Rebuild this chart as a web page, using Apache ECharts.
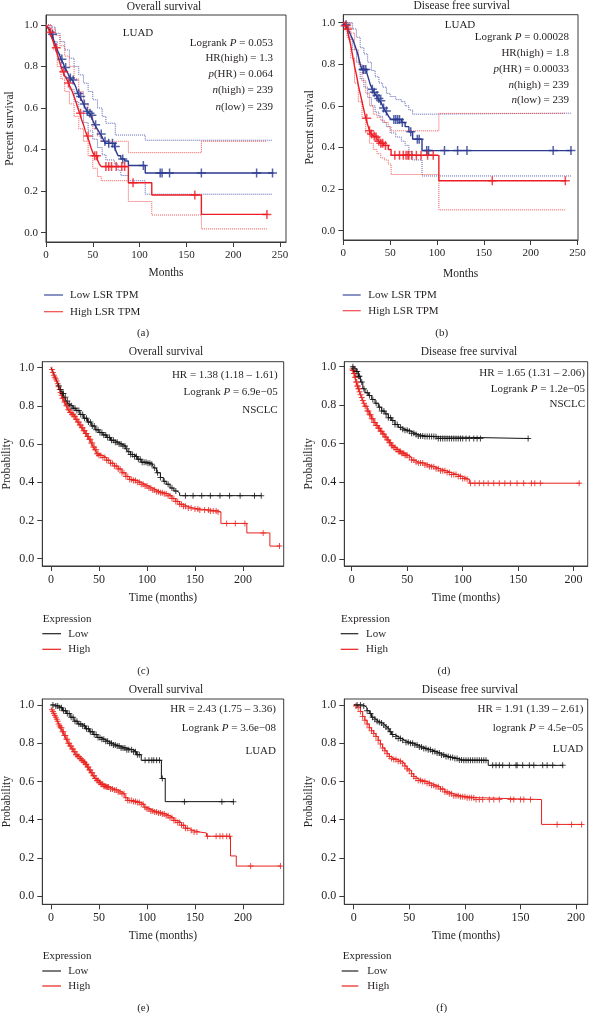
<!DOCTYPE html>
<html><head><meta charset="utf-8">
<script src="https://cdn.jsdelivr.net/npm/echarts@6/dist/echarts.min.js"></script>
<style>html,body{margin:0;padding:0;background:#fff}#c{width:590px;height:1013px}</style>
</head><body><div id="c"></div><script>
// ---------------- DATA ----------------
const xTicks250 = [0,50,100,150,200,250];
const xTicks200 = [0,50,100,150,200];
const yTicks = [0,0.2,0.4,0.6,0.8,1.0];

// (a) GEPIA overall survival LUAD
const aLow = [[0,1],[2,0.99],[4,0.975],[6,0.955],[8,0.93],[10,0.905],[12,0.88],[14,0.86],[16,0.835],[18,0.82],[20,0.795],[22,0.78],[24,0.76],[26,0.745],[28,0.735],[30,0.72],[32,0.7],[34,0.67],[36,0.655],[38,0.64],[40,0.62],[42,0.6],[44,0.585],[46,0.575],[48,0.565],[50,0.54],[52,0.52],[54,0.505],[56,0.49],[58,0.475],[60,0.46],[62,0.44],[64,0.43],[73,0.415],[75,0.39],[77,0.37],[80,0.355],[84,0.345],[88,0.323],[106,0.287],[243,0.287]];
const aLowCens = [7,17,21,26,29,35,37,41,44,47,49,53,59,63,67,71,74,82,104,122,124,132,166,225,242];
const aHigh = [[0,1],[2,0.985],[4,0.965],[6,0.94],[8,0.915],[10,0.89],[12,0.86],[14,0.83],[16,0.8],[18,0.775],[20,0.755],[22,0.74],[24,0.72],[26,0.7],[28,0.68],[30,0.655],[32,0.63],[34,0.6],[36,0.575],[38,0.545],[40,0.52],[42,0.49],[44,0.465],[46,0.44],[48,0.41],[50,0.385],[52,0.37],[55,0.35],[57,0.33],[59,0.318],[88,0.24],[113,0.181],[166,0.088],[237,0.088]];
const aHighCens = [5,11,19,24,37,45,52,54,64,67,70,75,81,84,93,159,236];
const aLowUp = [[0,1],[6,0.99],[10,0.96],[15,0.92],[20,0.88],[25,0.84],[30,0.8],[35,0.76],[40,0.72],[45,0.68],[50,0.64],[55,0.6],[60,0.56],[64,0.527],[74,0.47],[106,0.445],[242,0.445]];
const aLowDn = [[0,1],[4,0.97],[8,0.92],[12,0.86],[16,0.8],[20,0.75],[25,0.69],[30,0.63],[35,0.58],[40,0.53],[45,0.49],[50,0.45],[55,0.41],[60,0.375],[64,0.35],[73,0.33],[77,0.3],[80,0.275],[88,0.25],[106,0.185],[242,0.185]];
const aHighUp = [[0,1],[6,0.98],[10,0.95],[15,0.9],[20,0.85],[25,0.8],[30,0.74],[35,0.68],[40,0.62],[45,0.56],[50,0.5],[55,0.465],[59,0.44],[88,0.385],[166,0.44],[236,0.44]];
const aHighDn = [[0,1],[4,0.95],[8,0.88],[12,0.8],[16,0.74],[20,0.68],[25,0.62],[30,0.56],[35,0.5],[40,0.44],[45,0.37],[50,0.31],[55,0.27],[59,0.25],[88,0.15],[113,0.085],[166,0.018],[236,0.018]];

// (b) GEPIA disease free survival LUAD
const bLow = [[0,1],[2,0.99],[4,0.98],[6,0.96],[8,0.94],[10,0.92],[12,0.895],[14,0.87],[16,0.84],[18,0.8],[20,0.775],[25,0.76],[27,0.73],[29,0.7],[31,0.68],[33,0.665],[35,0.65],[37,0.635],[39,0.625],[41,0.61],[43,0.59],[45,0.575],[47,0.56],[49,0.545],[51,0.535],[62,0.52],[66,0.5],[70,0.475],[74,0.44],[84,0.385],[244,0.385]];
const bLowCens = [3,21,22,24,31,33,36,38,40,43,46,54,56,58,60,63,72,79,81,89,91,108,122,132,224,243];
const bHigh = [[0,1],[2,0.985],[4,0.97],[6,0.93],[8,0.89],[10,0.84],[12,0.79],[14,0.75],[16,0.7],[18,0.66],[20,0.62],[22,0.58],[24,0.54],[26,0.51],[28,0.48],[30,0.465],[32,0.455],[34,0.45],[36,0.44],[38,0.43],[40,0.42],[43,0.41],[48,0.39],[51,0.362],[102,0.24],[238,0.24]];
const bHighCens = [2,5,25,28,30,33,35,38,40,42,45,55,60,64,67,69,70,73,78,83,90,96,159,237];
const bLowUp = [[0,1],[6,1],[10,0.97],[14,0.93],[18,0.88],[22,0.85],[26,0.81],[30,0.77],[34,0.74],[38,0.71],[42,0.69],[46,0.66],[50,0.645],[56,0.63],[62,0.62],[66,0.6],[70,0.58],[74,0.56],[84,0.565],[243,0.565]];
const bLowDn = [[0,1],[6,0.92],[10,0.87],[14,0.81],[18,0.73],[22,0.69],[26,0.64],[30,0.6],[34,0.57],[38,0.55],[42,0.52],[46,0.5],[50,0.47],[56,0.45],[62,0.43],[66,0.41],[70,0.38],[74,0.34],[84,0.263],[243,0.263]];
const bHighUp = [[0,1],[4,1],[8,0.95],[12,0.87],[16,0.8],[20,0.72],[24,0.66],[28,0.6],[32,0.56],[36,0.545],[40,0.53],[44,0.52],[48,0.5],[51,0.48],[102,0.564],[237,0.564]];
const bHighDn = [[0,1],[4,0.93],[8,0.83],[12,0.71],[16,0.62],[20,0.54],[24,0.47],[28,0.42],[32,0.39],[36,0.37],[40,0.35],[44,0.34],[48,0.32],[51,0.27],[102,0.1],[237,0.1]];

// (c) KM plotter overall survival NSCLC
const cLow = [[0,1],[2,0.98],[4,0.955],[6,0.93],[8,0.905],[10,0.885],[12,0.865],[14,0.845],[16,0.825],[18,0.81],[20,0.8],[23,0.787],[26,0.775],[30,0.755],[34,0.735],[38,0.715],[42,0.695],[46,0.675],[50,0.66],[54,0.648],[58,0.635],[62,0.62],[66,0.61],[70,0.6],[74,0.59],[78,0.575],[80,0.56],[83,0.545],[86,0.535],[90,0.52],[94,0.505],[100,0.5],[105,0.495],[107,0.475],[110,0.45],[114,0.425],[117,0.405],[120,0.39],[124,0.37],[128,0.355],[131,0.345],[134,0.33],[219.5,0.33]];
const cLowCens = [8,10,12,13,15,17,19,21,23,25,27,29,31,33,35,37,39,41,43,45,47,49,51,53,55,57,59,61,63,65,67,69,71,73,75,77,79,81,83,85,87,89,91,93,95,97,99,101,103,105,108,111,114,118,122,126,130,140,148,157,166,176,186,197,212,219];
const cHigh = [[0,1],[1,0.99],[2,0.975],[3,0.96],[4,0.95],[5,0.94],[6,0.93],[7,0.915],[8,0.9],[9,0.885],[10,0.87],[11,0.855],[12,0.84],[14,0.82],[16,0.8],[18,0.78],[20,0.765],[22,0.755],[24,0.745],[26,0.73],[28,0.715],[30,0.7],[32,0.685],[34,0.67],[36,0.655],[38,0.64],[40,0.625],[42,0.605],[44,0.585],[46,0.57],[48,0.55],[50,0.54],[54,0.53],[58,0.515],[62,0.5],[66,0.485],[70,0.47],[74,0.45],[78,0.43],[82,0.415],[86,0.41],[90,0.4],[94,0.39],[98,0.38],[102,0.37],[106,0.36],[110,0.35],[114,0.345],[118,0.34],[122,0.33],[126,0.315],[130,0.3],[134,0.285],[138,0.275],[142,0.265],[148,0.26],[155,0.255],[165,0.25],[174,0.245],[177,0.185],[204,0.135],[228,0.066],[239,0.066]];
const cHighCens = [1,2,3,4,5,6,7,8,9,10,11,12,13,14,15,16,17,18,19,20,21,22,23,24,25,26,27,28,29,30,31,32,33,34,35,36,37,38,39,40,41,42,43,44,45,46,47,48,49,50,52,54,56,58,60,62,64,66,68,70,72,74,76,78,80,82,84,86,88,90,92,94,96,98,100,102,104,106,108,110,112,114,116,118,120,122,124,126,128,130,132,134,136,138,140,143,146,150,153,155,160,164,166,169,172,174,183,192,202,221,238];

// (d) KM plotter disease free survival NSCLC
const dLow = [[0,1],[2,0.99],[4,0.975],[6,0.95],[8,0.92],[10,0.885],[12,0.865],[15,0.85],[18,0.83],[21,0.81],[24,0.79],[27,0.77],[30,0.755],[33,0.735],[36,0.72],[39,0.7],[42,0.685],[45,0.675],[48,0.67],[51,0.665],[54,0.655],[57,0.648],[60,0.64],[66,0.638],[75,0.636],[77,0.627],[160,0.627]];
const dLowCens = [1,2,4,5,6,7,9,11,14,16,19,22,25,27,29,31,33,35,37,39,41,44,46,48,50,52,54,56,58,60,62,64,66,68,70,72,74,76,78,80,82,84,86,88,90,92,94,96,98,100,103,106,110,113,116,159];
const dHigh = [[0,0.988],[1,0.98],[2,0.965],[3,0.945],[4,0.92],[5,0.9],[6,0.885],[7,0.87],[8,0.855],[9,0.84],[10,0.825],[11,0.81],[12,0.795],[14,0.77],[16,0.75],[18,0.73],[20,0.71],[22,0.695],[24,0.68],[26,0.665],[28,0.65],[30,0.635],[32,0.62],[34,0.605],[36,0.59],[38,0.58],[40,0.57],[42,0.56],[45,0.55],[48,0.54],[51,0.53],[54,0.515],[57,0.505],[60,0.5],[65,0.49],[70,0.48],[75,0.47],[80,0.46],[85,0.45],[90,0.44],[95,0.43],[100,0.42],[104,0.415],[106,0.395],[206,0.395]];
const dHighCens = [0.5,1,1.5,2,2.5,3,3.5,4,4.5,5,5.5,6,6.5,7,8,9,10,11,12,13,14,15,16,17,18,19,20,21,22,23,24,25,26,27,28,29,30,31,32,33,34,35,36,37,38,39,40,41,42,43,44,45,46,47,48,49,50,52,54,56,58,60,62,64,66,68,70,72,74,76,78,80,82,84,86,88,90,92,94,96,98,100,102,104,107,111,115,119,123,128,133,138,143,149,155,162,165,170,205];

// (e) KM plotter overall survival LUAD
const eLow = [[0,1],[4,0.995],[8,0.985],[12,0.97],[16,0.955],[20,0.935],[24,0.915],[28,0.9],[32,0.89],[36,0.875],[40,0.86],[44,0.845],[48,0.83],[52,0.82],[56,0.81],[60,0.8],[64,0.79],[68,0.785],[72,0.775],[78,0.765],[86,0.755],[89,0.74],[94,0.71],[115,0.615],[119,0.494],[190.5,0.494]];
const eLowCens = [2,5,7,9,11,13,15,17,19,21,23,25,27,29,31,33,35,37,39,41,43,45,47,49,51,53,55,57,59,61,63,65,67,69,71,73,75,77,79,81,84,86,88,90,92,98,102,105,107,110,113,116,139,178,190];
const eHigh = [[0,0.985],[1,0.975],[2,0.965],[3,0.955],[4,0.945],[5,0.935],[6,0.925],[7,0.915],[8,0.9],[9,0.89],[10,0.88],[12,0.86],[14,0.84],[16,0.82],[18,0.8],[20,0.785],[22,0.77],[24,0.755],[26,0.74],[28,0.73],[30,0.72],[32,0.71],[34,0.7],[36,0.69],[38,0.675],[40,0.66],[42,0.645],[44,0.63],[46,0.615],[48,0.605],[50,0.595],[52,0.585],[55,0.575],[58,0.57],[62,0.56],[66,0.555],[70,0.545],[74,0.535],[77,0.515],[80,0.5],[85,0.495],[90,0.49],[94,0.48],[97,0.465],[100,0.455],[104,0.445],[108,0.44],[112,0.435],[116,0.43],[120,0.42],[124,0.41],[128,0.395],[132,0.385],[136,0.37],[140,0.355],[144,0.345],[147,0.335],[155,0.33],[162,0.313],[187,0.21],[193,0.157],[240,0.157]];
const eHighCens = [1,2,3,4,5,6,7,8,9,10,11,12,13,14,15,16,17,18,19,20,21,22,23,24,25,26,27,28,29,30,31,32,33,34,35,36,37,38,39,40,41,42,43,44,45,46,47,48,49,50,51,52,53,54,55,56,57,58,59,60,62,64,66,68,70,72,74,76,78,80,82,84,86,88,90,92,94,96,98,100,102,104,106,108,110,112,114,116,118,120,122,124,126,128,130,132,134,136,138,140,142,146,149,152,163,172,176,179,183,186,208,239];

// (f) KM plotter disease free survival LUAD
const fLow = [[0,1],[5,1],[8,0.995],[10,0.985],[12,0.97],[14,0.955],[16,0.935],[18,0.925],[20,0.915],[22,0.91],[24,0.905],[26,0.895],[28,0.885],[30,0.875],[32,0.86],[34,0.845],[37,0.835],[40,0.825],[43,0.815],[46,0.805],[50,0.8],[54,0.79],[58,0.78],[62,0.772],[66,0.765],[70,0.757],[74,0.748],[78,0.738],[82,0.73],[86,0.725],[90,0.72],[94,0.712],[98,0.71],[121,0.684],[188.5,0.684]];
const fLowCens = [3,6,9,12,15,17,19,21,23,25,27,29,31,33,35,38,40,42,44,47,49,51,53,55,57,59,61,63,65,67,69,71,73,75,77,79,81,83,85,87,89,91,93,95,97,99,101,103,105,107,109,111,113,115,117,119,125,128,131,134,140,146,147,152,158,162,170,174,179,188];
const fHigh = [[0,1],[2,0.995],[4,0.985],[6,0.965],[8,0.94],[10,0.92],[12,0.9],[14,0.88],[16,0.865],[18,0.85],[20,0.835],[22,0.815],[24,0.795],[26,0.775],[28,0.76],[30,0.745],[32,0.73],[34,0.72],[36,0.715],[40,0.705],[43,0.695],[46,0.68],[48,0.665],[50,0.655],[52,0.64],[54,0.625],[56,0.615],[58,0.605],[62,0.6],[66,0.59],[70,0.58],[74,0.572],[78,0.56],[82,0.545],[86,0.535],[90,0.525],[96,0.52],[102,0.515],[110,0.505],[169,0.375],[206,0.375]];
const fHighCens = [2,4,6,8,10,12,14,16,18,20,22,24,26,28,30,32,34,36,38,40,42,44,46,48,50,52,54,56,58,60,62,64,66,68,70,72,74,76,78,80,82,84,86,88,90,92,94,96,98,100,102,104,106,108,110,113,116,122,126,131,141,144,150,153,159,183,196,205];

// ---------------- STYLE / LAYOUT ----------------
const F = '"Liberation Serif", "DejaVu Serif", serif';
const INK = '#231f20';
const BLUE = '#2b3990', RED = '#ed1c24', BLUE_CI = '#5a63b0', RED_CI = '#f15454';
const KRED = '#e8201c', KBLK = '#111111';
const PLUS = 'path://M5,0h2v12h-2zM0,5h12v2h-12z';

function survAt(curve, t) {
  let s = curve[0][1];
  for (const p of curve) { if (p[0] <= t) s = p[1]; else break; }
  return s;
}

const grids = [], xAxes = [], yAxes = [], series = [], graphics = [];

function addPanel(i, g, xr, yr, xt, xName, yName, xGap, yGap, tickSize) {
  grids.push({left: g[0], top: g[1], width: g[2], height: g[3], show: true, borderColor: '#3a3a3a', borderWidth: 1, containLabel: false, outerBoundsMode: 'none'});
  const lab = {color: INK, fontFamily: F, fontSize: tickSize, margin: 8, hideOverlap: false};
  xAxes.push({type: 'value', gridIndex: i, min: xr[0], max: xr[1],
    axisLine: {show: true, onZero: false, lineStyle: {color: '#3a3a3a', width: 1}},
    axisTick: {show: true, customValues: xt, length: 5, lineStyle: {color: '#3a3a3a'}},
    axisLabel: Object.assign({customValues: xt, formatter: v => String(Math.round(v))}, lab),
    splitLine: {show: false},
    name: xName, nameLocation: 'middle', nameGap: xGap,
    nameTextStyle: {color: INK, fontFamily: F, fontSize: 11.5}});
  yAxes.push({type: 'value', gridIndex: i, min: yr[0], max: yr[1],
    axisLine: {show: true, onZero: false, lineStyle: {color: '#3a3a3a', width: 1}},
    axisTick: {show: true, customValues: yTicks, length: 5, lineStyle: {color: '#3a3a3a'}},
    axisLabel: Object.assign({customValues: yTicks, formatter: v => v.toFixed(1)}, lab),
    splitLine: {show: false},
    name: yName, nameLocation: 'middle', nameGap: yGap,
    nameTextStyle: {color: INK, fontFamily: F, fontSize: 11.5}});
}
function step(i, data, color, width, type, z) {
  series.push({type: 'line', xAxisIndex: i, yAxisIndex: i, data: data, step: 'end', symbol: 'none', showSymbol: false,
    lineStyle: {color: color, width: width, type: type}, z: z, silent: true, animation: false});
}
function cens(i, curve, times, color, size) {
  series.push({type: 'scatter', xAxisIndex: i, yAxisIndex: i, data: times.map(t => [t, survAt(curve, t)]),
    symbol: PLUS, symbolSize: size, itemStyle: {color: color}, z: 4, silent: true, animation: false});
}
const RICH = {i: {fontStyle: 'italic', fontSize: 11, fontFamily: F, fill: INK}};
function txt(x, y, text, align, size) {
  graphics.push({type: 'text', x: x, y: y, silent: true, z: 10,
    style: {text: text, fill: INK, fontSize: size || 11, fontFamily: F, align: align || 'left', verticalAlign: 'middle',
      textAlign: align || 'left', textVerticalAlign: 'middle', rich: RICH}});
}
function seg(x1, x2, y, color) {
  graphics.push({type: 'line', silent: true, shape: {x1: x1, y1: y, x2: x2, y2: y}, style: {stroke: color, lineWidth: 1.2}});
}

// (a)
addPanel(0, [46, 15, 240, 227], [0, 256.4], [-0.045, 1.048], xTicks250, 'Months', 'Percent survival', 25, 30, 11);
step(0, aLowUp, BLUE_CI, 1, 'dotted', 1); step(0, aLowDn, BLUE_CI, 1, 'dotted', 1);
step(0, aHighUp, RED_CI, 1, 'dotted', 1); step(0, aHighDn, RED_CI, 1, 'dotted', 1);
step(0, aLow, BLUE, 1.4, 'solid', 2); step(0, aHigh, RED, 1.4, 'solid', 3);
cens(0, aLow, aLowCens, BLUE, 9); cens(0, aHigh, aHighCens, RED, 9);
// (b)
addPanel(1, [343.3, 14.7, 234.7, 225.3], [0, 250.5], [-0.045, 1.0385], xTicks250, 'Months', 'Percent survival', 28, 27, 11);
step(1, bLowUp, BLUE_CI, 1, 'dotted', 1); step(1, bLowDn, BLUE_CI, 1, 'dotted', 1);
step(1, bHighUp, RED_CI, 1, 'dotted', 1); step(1, bHighDn, RED_CI, 1, 'dotted', 1);
step(1, bLow, BLUE, 1.4, 'solid', 2); step(1, bHigh, RED, 1.4, 'solid', 3);
cens(1, bLow, bLowCens, BLUE, 9); cens(1, bHigh, bHighCens, RED, 9);
// (c)
addPanel(2, [42.3, 361.7, 241.4, 204.3], [-9.06, 242.4], [-0.038, 1.031], xTicks200, 'Time (months)', 'Probability', 26, 29, 12);
step(2, cHigh, KRED, 1, 'solid', 2); step(2, cLow, KBLK, 1, 'solid', 3);
cens(2, cHigh, cHighCens, KRED, 6); cens(2, cLow, cLowCens, KBLK, 6);
// (d)
addPanel(3, [344.3, 361.7, 243.4, 204.3], [-6.7, 212.7], [-0.035, 1.026], xTicks200, 'Time (months)', 'Probability', 26, 29, 12);
step(3, dHigh, KRED, 1, 'solid', 2); step(3, dLow, KBLK, 1, 'solid', 3);
cens(3, dHigh, dHighCens, KRED, 6); cens(3, dLow, dLowCens, KBLK, 6);
// (e)
addPanel(4, [42.3, 699, 241.4, 205.3], [-9.06, 242.4], [-0.043, 1.031], xTicks200, 'Time (months)', 'Probability', 26, 29, 12);
step(4, eHigh, KRED, 1, 'solid', 2); step(4, eLow, KBLK, 1, 'solid', 3);
cens(4, eHigh, eHighCens, KRED, 6); cens(4, eLow, eLowCens, KBLK, 6);
// (f)
addPanel(5, [344.3, 699, 243.4, 205.3], [-8.5, 210.5], [-0.043, 1.031], xTicks200, 'Time (months)', 'Probability', 26, 29, 12);
step(5, fHigh, KRED, 1, 'solid', 2); step(5, fLow, KBLK, 1, 'solid', 3);
cens(5, fHigh, fHighCens, KRED, 6); cens(5, fLow, fLowCens, KBLK, 6);

// titles
txt(164, 7, 'Overall survival', 'center', 11.5);
txt(461.7, 5.5, 'Disease free survival', 'center', 11.5);
txt(166, 352.3, 'Overall survival', 'center', 11.5);
txt(469, 352.3, 'Disease free survival', 'center', 11.5);
txt(166, 690, 'Overall survival', 'center', 11.5);
txt(470, 690, 'Disease free survival', 'center', 11.5);
// stats (a)
txt(138, 32.7, 'LUAD', 'center');
txt(273, 42.7, 'Logrank {i|P} = 0.053', 'right');
txt(273, 58.3, 'HR(high) = 1.3', 'right');
txt(273, 74, '{i|p}(HR) = 0.064', 'right');
txt(273, 90, '{i|n}(high) = 239', 'right');
txt(273, 106.7, '{i|n}(low) = 239', 'right');
// stats (b)
txt(460, 25, 'LUAD', 'center');
txt(569, 37.3, 'Logrank {i|P} = 0.00028', 'right');
txt(569, 53.3, 'HR(high) = 1.8', 'right');
txt(569, 69.3, '{i|p}(HR) = 0.00033', 'right');
txt(569, 85, '{i|n}(high) = 239', 'right');
txt(569, 100.5, '{i|n}(low) = 239', 'right');
// stats (c)-(f)
txt(277.7, 375, 'HR = 1.38 (1.18 – 1.61)', 'right');
txt(277.7, 391.7, 'Logrank {i|P} = 6.9e−05', 'right');
txt(277.7, 410, 'NSCLC', 'right');
txt(585, 372.7, 'HR = 1.65 (1.31 – 2.06)', 'right');
txt(585, 389, 'Logrank {i|P} = 1.2e−05', 'right');
txt(585, 404, 'NSCLC', 'right');
txt(276, 709.3, 'HR = 2.43 (1.75 – 3.36)', 'right');
txt(276, 727.7, 'Logrank {i|P} = 3.6e−08', 'right');
txt(276, 751, 'LUAD', 'right');
txt(583.3, 709.3, 'HR = 1.91 (1.39 – 2.61)', 'right');
txt(583.3, 727.7, 'logrank {i|P} = 4.5e−05', 'right');
txt(583.3, 749.3, 'LUAD', 'right');
// legends
seg(44, 63, 295, '#3f4c9f'); txt(70, 295, 'Low LSR TPM');
seg(44, 63, 311.7, '#f04848'); txt(70, 311.7, 'High LSR TPM');
seg(342.7, 360.7, 295, '#3f4c9f'); txt(368.3, 295, 'Low LSR TPM');
seg(342.7, 360.7, 310.7, '#f04848'); txt(368.3, 310.7, 'High LSR TPM');
txt(42.7, 619, 'Expression'); seg(42.3, 61, 633.7, '#222'); txt(68.3, 633.7, 'Low');
seg(42.3, 61, 649.3, KRED); txt(68.3, 649.3, 'High');
txt(341, 619, 'Expression'); seg(340.7, 358.3, 633.7, '#222'); txt(366, 633.7, 'Low');
seg(340.7, 358.3, 649.3, KRED); txt(366, 649.3, 'High');
txt(42.7, 956, 'Expression'); seg(42.3, 61, 971, '#222'); txt(68.3, 971, 'Low');
seg(42.3, 61, 986, KRED); txt(68.3, 986, 'High');
txt(342.7, 956, 'Expression'); seg(341.7, 358.3, 971, '#222'); txt(367.3, 971, 'Low');
seg(341.7, 358.3, 986, KRED); txt(367.3, 986, 'High');
// panel letters
txt(143, 333, '(a)', 'center');
txt(441.7, 333, '(b)', 'center');
txt(143.3, 670.7, '(c)', 'center');
txt(444, 670.7, '(d)', 'center');
txt(143.3, 1008, '(e)', 'center');
txt(441.7, 1008, '(f)', 'center');

const chart = echarts.init(document.getElementById('c'), null, {renderer: 'canvas'});
chart.setOption({
  backgroundColor: '#ffffff',
  animation: false,
  grid: grids, xAxis: xAxes, yAxis: yAxes, series: series, graphic: graphics
});
</script></body></html>
